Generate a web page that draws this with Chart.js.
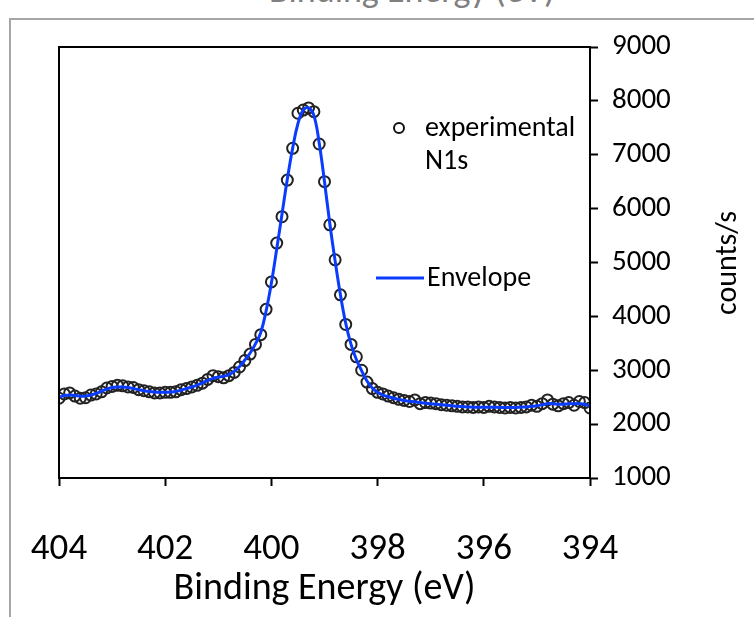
<!DOCTYPE html>
<html><head><meta charset="utf-8">
<script src="https://cdn.jsdelivr.net/npm/chart.js@4.4.1/dist/chart.umd.min.js"></script>
<style>
html,body{margin:0;padding:0;background:#fff;overflow:hidden;}
#wrap{position:relative;width:754px;height:617px;overflow:hidden;}
#frame{position:absolute;left:9px;top:18px;width:760px;height:620px;border-left:2px solid #a6a6a6;border-top:2px solid #a6a6a6;}
#toptitle{position:absolute;left:0;width:824px;top:-32px;text-align:center;font:36px Carlito, Lato, sans-serif;color:#808080;white-space:nowrap;}
canvas{position:absolute;left:0;top:0;}
</style></head>
<body><div id="wrap"><div id="toptitle">Binding Energy (eV)</div><div id="frame"></div><canvas id="c" width="754" height="617"></canvas></div>
<script>
const energies = [404.0,403.9,403.8,403.7,403.6,403.5,403.4,403.3,403.2,403.1,
403.0,402.9,402.8,402.7,402.6,402.5,402.4,402.3,402.2,402.1,
402.0,401.9,401.8,401.7,401.6,401.5,401.4,401.3,401.2,401.1,
401.0,400.9,400.8,400.7,400.6,400.5,400.4,400.3,400.2,400.1,
400.0,399.9,399.8,399.7,399.6,399.5,399.4,399.3,399.2,399.1,
399.0,398.9,398.8,398.7,398.6,398.5,398.4,398.3,398.2,398.1,
398.0,397.9,397.8,397.7,397.6,397.5,397.4,397.3,397.2,397.1,
397.0,396.9,396.8,396.7,396.6,396.5,396.4,396.3,396.2,396.1,
396.0,395.9,395.8,395.7,395.6,395.5,395.4,395.3,395.2,395.1,
395.0,394.9,394.8,394.7,394.6,394.5,394.4,394.3,394.2,394.1,394.0];

const experimental = [2480,2560,2580,2520,2480,2490,2540,2560,2600,2670,
2700,2720,2710,2690,2680,2640,2620,2600,2580,2580,
2590,2590,2600,2640,2660,2690,2720,2760,2830,2900,
2880,2860,2900,2960,3060,3180,3300,3480,3660,4130,
4640,5360,5850,6530,7120,7770,7830,7870,7800,7200,
6500,5700,5050,4400,3850,3480,3250,3000,2780,2660,
2590,2560,2520,2490,2460,2440,2420,2450,2380,2400,
2390,2380,2360,2350,2340,2330,2320,2320,2310,2320,
2310,2330,2320,2310,2300,2310,2300,2310,2320,2350,
2330,2380,2450,2370,2340,2380,2400,2350,2420,2400,2300];

const envelope = [2500,2530,2540,2530,2520,2520,2540,2570,2610,2650,
2680,2690,2690,2680,2660,2640,2620,2605,2595,2590,
2590,2595,2610,2630,2660,2690,2725,2765,2810,2850,
2870,2890,2920,2980,3070,3190,3320,3490,3700,4100,
4620,5250,5900,6550,7120,7580,7830,7870,7730,7220,
6500,5720,5030,4400,3870,3480,3200,2990,2800,2670,
2590,2540,2510,2480,2460,2440,2425,2415,2400,2390,
2380,2370,2360,2350,2340,2330,2325,2320,2315,2315,
2315,2315,2315,2310,2310,2310,2310,2315,2320,2330,
2340,2360,2380,2380,2370,2370,2380,2380,2380,2370,2330];

const xTicks = [404,402,400,398,396,394];
const yTicks = [1000,2000,3000,4000,5000,6000,7000,8000,9000];
const FONT = 'Carlito, Lato, sans-serif';

const toPts = (xs, ys) => xs.map((x, i) => ({x: x, y: ys[i]}));

const extras = {
  id: 'extras',
  afterDraw(chart) {
    const ctx = chart.ctx;
    const a = chart.chartArea;
    ctx.save();
    ctx.strokeStyle = '#000';
    ctx.lineWidth = 2;
    ctx.strokeRect(a.left, a.top, a.right - a.left, a.bottom - a.top);
    // legend
    ctx.fillStyle = '#000';
    ctx.font = '28px ' + FONT;
    ctx.textBaseline = 'middle';
    ctx.textAlign = 'left';
    ctx.strokeStyle = '#111';
    ctx.beginPath();
    ctx.arc(399, 128, 5, 0, Math.PI * 2);
    ctx.stroke();
    ctx.fillText('experimental', 425, 129);
    ctx.fillText('N1s', 425, 162);
    ctx.strokeStyle = '#0a3cff';
    ctx.lineWidth = 3;
    ctx.beginPath();
    ctx.moveTo(376, 278);
    ctx.lineTo(424, 278);
    ctx.stroke();
    ctx.fillText('Envelope', 427, 279);
    // y title
    ctx.translate(728, 263);
    ctx.rotate(-Math.PI / 2);
    ctx.textAlign = 'center';
    ctx.font = '30px ' + FONT;
    ctx.fillText('counts/s', 0, 0);
    ctx.restore();
  }
};

new Chart(document.getElementById('c'), {
  type: 'scatter',
  data: {
    datasets: [
      {
        label: 'Envelope',
        data: toPts(energies, envelope),
        showLine: true,
        borderColor: '#0a3cff',
        borderWidth: 3,
        pointRadius: 0,
        tension: 0.4,
        order: 0
      },
      {
        label: 'experimental N1s',
        data: toPts(energies, experimental),
        showLine: false,
        pointStyle: 'circle',
        pointRadius: 5.5,
        pointBorderWidth: 2,
        pointBorderColor: '#222',
        pointBackgroundColor: 'rgba(0,0,0,0)',
        order: 1
      }
    ]
  },
  options: {
    responsive: false,
    animation: false,
    devicePixelRatio: 1,
    layout: {padding: {left: 59, top: 47, right: 0, bottom: 0}},
    plugins: {legend: {display: false}, tooltip: {enabled: false}},
    scales: {
      x: {
        type: 'linear',
        position: 'bottom',
        reverse: true,
        min: 394, max: 404,
        afterBuildTicks: s => { s.ticks = xTicks.map(v => ({value: v})); },
        afterFit: s => { s.height = 139; s.paddingLeft = 0; s.paddingRight = 0; },
        ticks: {color: '#000', font: {family: FONT, size: 37}, padding: 42, callback: v => String(v)},
        grid: {drawOnChartArea: false, drawTicks: true, tickLength: 8, tickColor: '#000', tickWidth: 2},
        border: {display: true, color: '#000', width: 2},
        title: {display: true, text: 'Binding Energy (eV)', color: '#000', font: {family: FONT, size: 38}, padding: {top: 0, bottom: 5}}
      },
      y: {
        type: 'linear',
        position: 'right',
        min: 1000, max: 9000,
        afterBuildTicks: s => { s.ticks = yTicks.map(v => ({value: v})); },
        afterFit: s => { s.width = 164; s.paddingTop = 0; s.paddingBottom = 0; },
        ticks: {color: '#000', font: {family: FONT, size: 29}, padding: 14, callback: v => String(v)},
        grid: {drawOnChartArea: false, drawTicks: true, tickLength: 8, tickColor: '#000', tickWidth: 2},
        border: {display: true, color: '#000', width: 2}
      }
    }
  },
  plugins: [extras]
});
</script>
</body></html>
